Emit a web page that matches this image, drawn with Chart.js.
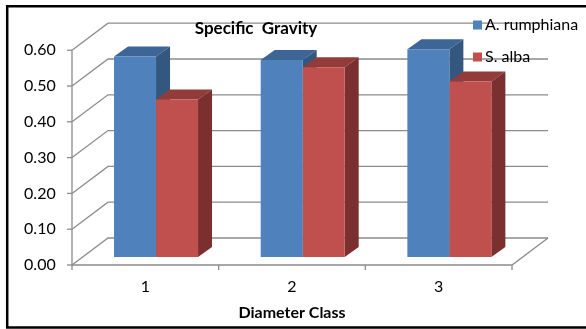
<!DOCTYPE html>
<html>
<head>
<meta charset="utf-8">
<script src="https://cdn.jsdelivr.net/npm/chart.js@4.4.1/dist/chart.umd.min.js"></script>
<style>
  html, body { margin: 0; padding: 0; background: #fff; }
  #wrap { width: 586px; height: 329px; position: relative; }
</style>
</head>
<body>
<div id="wrap"><canvas id="c" width="586" height="329"></canvas></div>
<script>
// Diameter classes and specific gravity per species
const categories = ['1', '2', '3'];
const rumphiana = [0.56, 0.55, 0.58];
const alba = [0.44, 0.53, 0.49];
const seriesNames = ['A. rumphiana', 'S. alba'];
const yTicks = [0, 0.1, 0.2, 0.3, 0.4, 0.5, 0.6];
const chartTitle = 'Specific  Gravity';
const xTitle = 'Diameter Class';

const FONT = 'Lato, "Liberation Sans", Arial, sans-serif';

// oblique projection of the 3D box (pixels)
const FRONT = { dx: -10.7, dy: 8 };     // from bar plane to front edge
const BACK = { dx: 25.3, dy: -19 };     // from bar plane to back wall
const BAR_DEPTH = { dx: 14, dy: -10 };  // depth of each column

const faces = [
  { front: '#4F81BD', top: '#3D6596', side: '#34577F' },
  { front: '#C0504D', top: '#923B39', side: '#7B2F2E' }
];
const GRID = '#8C8C8C';

const box3d = {
  id: 'box3d',
  beforeDatasetsDraw(chart) {
    const ctx = chart.ctx;
    const ys = chart.scales.y;
    const L = chart.chartArea.left, R = chart.chartArea.right;
    ctx.save();
    ctx.strokeStyle = GRID;
    ctx.lineWidth = 1.3;
    ctx.lineCap = 'butt';
    // side wall diagonals and back wall lines
    yTicks.forEach(v => {
      const y = ys.getPixelForValue(v);
      ctx.beginPath();
      ctx.moveTo(L + FRONT.dx, y + FRONT.dy);
      ctx.lineTo(L + BACK.dx, y + BACK.dy);
      ctx.lineTo(R + BACK.dx, y + BACK.dy);
      ctx.stroke();
      // tick mark on the front axis
      ctx.beginPath();
      ctx.moveTo(L + FRONT.dx - 5, y + FRONT.dy);
      ctx.lineTo(L + FRONT.dx, y + FRONT.dy);
      ctx.stroke();
    });
    const y0 = ys.getPixelForValue(0);
    const yTop = ys.getPixelForValue(yTicks[yTicks.length - 1]);
    // front value axis
    ctx.beginPath();
    ctx.moveTo(L + FRONT.dx, yTop + FRONT.dy);
    ctx.lineTo(L + FRONT.dx, y0 + FRONT.dy);
    ctx.stroke();
    // floor front edge and right edge
    ctx.beginPath();
    ctx.moveTo(L + FRONT.dx, y0 + FRONT.dy);
    ctx.lineTo(R + FRONT.dx, y0 + FRONT.dy);
    ctx.lineTo(R + BACK.dx, y0 + BACK.dy);
    ctx.stroke();
    // category tick marks
    const step = (R - L) / categories.length;
    for (let i = 0; i <= categories.length; i++) {
      const x = L + i * step + FRONT.dx;
      ctx.beginPath();
      ctx.moveTo(x, y0 + FRONT.dy);
      ctx.lineTo(x, y0 + FRONT.dy + 5);
      ctx.stroke();
    }
    // top and side faces of the columns, category by category
    const metas = chart.data.datasets.map((d, i) => chart.getDatasetMeta(i));
    categories.forEach((c, ci) => {
      metas.forEach((meta, di) => {
        const el = meta.data[ci];
        const p = el.getProps(['x', 'y', 'base', 'width'], true);
        const x0 = p.x - p.width / 2, x1 = p.x + p.width / 2;
        const t = p.y, b = p.base;
        ctx.fillStyle = faces[di].top;
        ctx.beginPath();
        ctx.moveTo(x0, t);
        ctx.lineTo(x1, t);
        ctx.lineTo(x1 + BAR_DEPTH.dx, t + BAR_DEPTH.dy);
        ctx.lineTo(x0 + BAR_DEPTH.dx, t + BAR_DEPTH.dy);
        ctx.closePath();
        ctx.fill();
        ctx.fillStyle = faces[di].side;
        ctx.beginPath();
        ctx.moveTo(x1, t);
        ctx.lineTo(x1 + BAR_DEPTH.dx, t + BAR_DEPTH.dy);
        ctx.lineTo(x1 + BAR_DEPTH.dx, b + BAR_DEPTH.dy);
        ctx.lineTo(x1, b);
        ctx.closePath();
        ctx.fill();
      });
    });
    ctx.restore();
  },
  afterDraw(chart) {
    const ctx = chart.ctx;
    const L = chart.chartArea.left, R = chart.chartArea.right;
    ctx.save();
    // chart title
    ctx.fillStyle = '#000';
    ctx.font = 'bold 17px ' + FONT;
    ctx.textAlign = 'center';
    ctx.textBaseline = 'middle';
    ctx.fillText(chartTitle, 256, 29);
    // category axis title, centred under the front floor edge
    ctx.font = 'bold 16px ' + FONT;
    ctx.fillText(xTitle, (L + R) / 2 + FRONT.dx, 313);
    // legend
    ctx.font = '16px ' + FONT;
    ctx.textAlign = 'left';
    const rows = [25, 57];
    chart.data.datasets.forEach((d, i) => {
      ctx.fillStyle = faces[i].front;
      ctx.fillRect(473, rows[i] - 4.5, 9, 9);
      ctx.fillStyle = '#000';
      ctx.fillText(d.label, 485, rows[i]);
    });
    // outer frame
    ctx.strokeStyle = '#000';
    ctx.lineWidth = 2.5;
    ctx.beginPath();
    ctx.moveTo(590, 6.2);
    ctx.lineTo(7.2, 6.2);
    ctx.lineTo(7.2, 327.5);
    ctx.lineTo(590, 327.5);
    ctx.stroke();
    ctx.restore();
  }
};

const whiteBg = {
  id: 'whiteBg',
  beforeDraw(chart) {
    const ctx = chart.ctx;
    ctx.save();
    ctx.fillStyle = '#fff';
    ctx.fillRect(0, 0, chart.width, chart.height);
    ctx.restore();
  }
};

new Chart(document.getElementById('c'), {
  type: 'bar',
  data: {
    labels: categories,
    datasets: [
      { label: seriesNames[0], data: rumphiana, backgroundColor: faces[0].front },
      { label: seriesNames[1], data: alba, backgroundColor: faces[1].front }
    ]
  },
  options: {
    responsive: false,
    animation: false,
    devicePixelRatio: 1,
    layout: { padding: { left: 0, right: 63.3, top: 42.2, bottom: 0 } },
    datasets: { bar: { categoryPercentage: 0.5727, barPercentage: 1 } },
    plugins: {
      legend: { display: false },
      title: { display: false },
      tooltip: { enabled: false }
    },
    scales: {
      x: {
        grid: { display: false, drawTicks: false },
        border: { display: false },
        ticks: {
          color: '#000',
          font: { family: FONT, size: 16 },
          padding: 20,
          labelOffset: FRONT.dx,
          maxRotation: 0
        },
        afterFit(scale) { scale.height = 72; }
      },
      y: {
        min: 0,
        max: 0.6,
        grid: { display: false, drawTicks: false },
        border: { display: false },
        afterBuildTicks(scale) { scale.ticks = yTicks.map(v => ({ value: v })); },
        ticks: {
          color: '#000',
          font: { family: FONT, size: 16 },
          padding: 27,
          labelOffset: FRONT.dy,
          callback: v => v.toFixed(2)
        },
        afterFit(scale) { scale.width = 82.7; }
      }
    }
  },
  plugins: [whiteBg, box3d]
});
</script>
</body>
</html>
